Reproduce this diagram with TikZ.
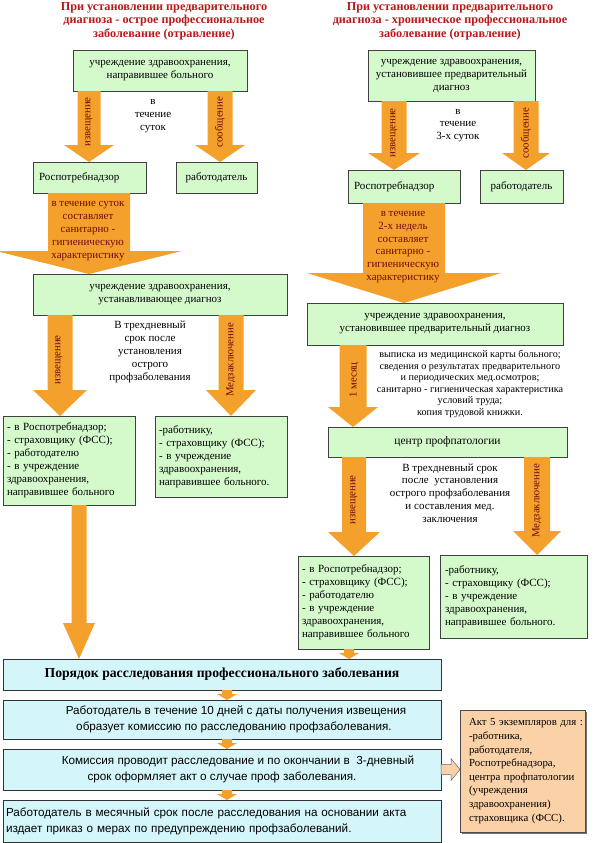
\documentclass[tikz,border=0pt]{standalone}
\usepackage{fontspec}
\setmainfont{Liberation Serif}
\newfontfamily\arialf{Liberation Sans}
\usetikzlibrary{calc,shadows}
\definecolor{grn}{RGB}{212,250,204}
\definecolor{blu}{RGB}{212,246,250}
\definecolor{org}{RGB}{243,160,45}
\definecolor{peach}{RGB}{251,210,168}
\definecolor{ttl}{RGB}{185,25,25}
\definecolor{mar}{RGB}{115,10,10}
\newcommand\fs[2]{\fontsize{#1}{#2}\selectfont}
\tikzset{
 every node/.style={inner sep=0pt, outer sep=0pt},
 ttlst/.style={font=\bfseries\fs{12.2}{13.6}, text=ttl, align=center},
 gbox/.style={draw=black!75, line width=0.6pt, fill=grn, font=\fs{11}{13}},
 bbox/.style={draw=black!80, line width=0.7pt, fill=blu, minimum width=438pt, font=\arialf\fs{11.7}{16}},
 arr/.style={fill=org},
 albl/.style={text=mar, font=\fs{10.8}{12}, rotate=90},
 atxt/.style={text=mar, font=\fs{11}{12.8}, align=center},
 ftxt/.style={font=\fs{11}{12.8}, align=center},
}
% block arrow: from node #1 (south) to node #2 (north) at x=#3, shaft half #4, head half #5, head length #6
\newcommand\barrow[6]{%
 \fill[arr] let \p1=(#1.south), \p2=(#2.north) in
  ({(#3-#4)*1pt},\y1) -- ({(#3+#4)*1pt},\y1) -- ({(#3+#4)*1pt},{\y2+#6pt})
  -- ({(#3+#5)*1pt},{\y2+#6pt}) -- ({#3*1pt},\y2) -- ({(#3-#5)*1pt},{\y2+#6pt})
  -- ({(#3-#4)*1pt},{\y2+#6pt}) -- cycle;}
\begin{document}
\begin{tikzpicture}[x=1pt,y=-1pt]
\useasboundingbox (0,0) rectangle (596,843);
\fill[white] (0,0) rectangle (596,843);

% titles
\node[ttlst] (t1) at (164,21) {При установлении предварительного\\диагноза - острое профессиональное\\заболевание (отравление)};
\node[ttlst] (t2) at (450,21) {При установлении предварительного\\диагноза - хроническое профессиональное\\заболевание (отравление)};

% ---------- left column ----------
\node[gbox, minimum width=174pt, minimum height=41pt, align=center] (lb1) at (160,70.5) {учреждение здравоохранения,\\направившее больного};
\node[gbox, minimum width=113pt, minimum height=31pt, text width=101pt, inner xsep=6pt, align=left] (lrpn) at (89.5,177.5) {Роспотребнадзор};
\node[gbox, minimum width=81pt, minimum height=31pt, align=center] (lrab) at (216.5,177.5) {работодатель};
\node[gbox, minimum width=254pt, minimum height=41pt, align=center] (lb2) at (160,294.5) {учреждение здравоохранения,\\устанавливающее диагноз};
\node[gbox, minimum width=132pt, minimum height=89pt, text width=124pt, inner xsep=4pt, align=left] (lb3) at (69,460.5) {- в Роспотребнадзор;\\- страховщику (ФСС);\\- работодателю\\- в учреждение\\здравоохранения,\\направившее больного};
\node[gbox, minimum width=132pt, minimum height=81pt, text width=124pt, inner xsep=4pt, align=left] (lb4) at (221,456.5) {-работнику,\\- страховщику (ФСС);\\- в учреждение\\здравоохранения,\\направившее больного.};

\barrow{lb1}{lrpn}{89}{11.5}{25}{17}
\barrow{lb1}{lrab}{220}{12.5}{25}{17}
\barrow{lrpn}{lb2}{89}{41}{93}{23}
\barrow{lb2}{lb3}{60}{12.5}{27}{26}
\barrow{lb2}{lb4}{231}{12.5}{25}{26}

\node[albl] (la1) at (89,122) {извещение};
\node[albl] (la2) at (220,122) {сообщение};
\node[ftxt] (lt1) at (153,116) {в\\течение\\суток};
\node[atxt] (lt2) at (88,231) {в течение суток\\составляет\\санитарно -\\гигиеническую\\характеристику};
\node[albl] (la3) at (59,360) {извещение};
\node[albl] (la4) at (231,360) {Медзаключение};
\node[ftxt] (lt3) at (150,352) {В трехдневный\\срок после\\установления\\острого\\профзаболевания};

% ---------- right column ----------
\node[gbox, minimum width=167pt, minimum height=51pt, align=center] (rb1) at (451.5,75.5) {учреждение здравоохранения,\\установившее предварительный\\диагноз};
\node[gbox, minimum width=112pt, minimum height=33pt, text width=100pt, inner xsep=6pt, align=left] (rrpn) at (404,186.5) {Роспотребнадзор};
\node[gbox, minimum width=83pt, minimum height=33pt, align=center] (rrab) at (521.5,186.5) {работодатель};
\node[gbox, minimum width=256pt, minimum height=42pt, align=center] (rb2) at (435,324) {учреждение здравоохранения,\\установившее предварительный диагноз};
\node[gbox, minimum width=239pt, minimum height=30pt, align=center, font=\fs{11.5}{13}] (rcp) at (447.5,442) {центр профпатологии};
\node[gbox, minimum width=131pt, minimum height=93pt, text width=123pt, inner xsep=4pt, align=left] (rb3) at (363.5,602.5) {- в Роспотребнадзор;\\- страховщику (ФСС);\\- работодателю\\- в учреждение\\здравоохранения,\\направившее больного};
\node[gbox, minimum width=147pt, minimum height=83pt, text width=137pt, inner xsep=5pt, align=left] (rb4) at (513.5,596.5) {-работнику,\\- страховщику (ФСС);\\- в учреждение\\здравоохранения,\\направившее больного.};

\barrow{rb1}{rrpn}{394}{12.5}{26}{17}
\barrow{rb1}{rrab}{526}{12.5}{24}{17}
\barrow{rrpn}{rb2}{404}{41}{97}{30}
\barrow{rb2}{rcp}{353}{13.5}{25}{20}
\barrow{rcp}{rb3}{354}{12}{26}{24}
\barrow{rcp}{rb4}{537}{13}{24}{24}

\node[albl] (ra1) at (394,133) {извещение};
\node[albl] (ra2) at (526,133) {сообщение};
\node[ftxt] (rt1) at (458,125.5) {в\\течение\\3-х суток};
\node[atxt] (rt2) at (403,247) {в течение\\2-х недель\\составляет\\санитарно -\\гигиеническую\\характеристику};
\node[albl] (ra3) at (354,380) {1 месяц};
\node[font=\fs{10.2}{11.6}, align=center] (rt3) at (470,384) {выписка из медицинской карты больного;\\сведения о результатах предварительного\\и периодических мед.осмотров;\\санитарно - гигиеническая характеристика\\условий труда;\\копия трудовой книжки.};
\node[albl] (ra4) at (354,500) {извещение};
\node[albl] (ra5) at (537,501) {Медзаключение};
\node[ftxt] (rt4) at (450,493) {В трехдневный срок\\после~ установления\\острого профзаболевания\\и составления мед.\\заключения};

% ---------- bottom ----------
\node[bbox, minimum height=31pt, font=\bfseries\fs{13.7}{15}] (bx1) at (222,674.5) {Порядок расследования профессионального заболевания};
\node[bbox, minimum height=39pt, align=center] (bx2) at (222,719.5) {\hspace*{28pt}Работодатель в течение 10 дней с даты получения извещения\\\hspace*{24pt}образует комиссию по расследованию профзаболевания.};
\node[bbox, minimum height=41pt, align=center] (bx3) at (222,769.5) {\hspace*{32pt}Комиссия проводит расследование и по окончании в~ 3-дневный\\срок оформляет акт о случае проф заболевания.};
\node[bbox, minimum height=42pt, text width=432pt, inner xsep=3pt, align=left] (bx4) at (222,821) {Работодатель в месячный срок после расследования на основании акта\\издает приказ о мерах по предупреждению профзаболеваний.};
\node[draw=black!70, line width=0.6pt, fill=peach, drop shadow={shadow xshift=2pt, shadow yshift=-2pt, fill=black!55, opacity=1},
      minimum width=125pt, minimum height=122pt, text width=121pt, inner xsep=2pt, align=left, font=\fs{10.8}{13.6}] (act) at (522.5,771)
 {\hspace*{7pt}Акт 5 экземпляров для~:\\\hspace*{7pt}-работника,\\\hspace*{7pt}работодателя,\\\hspace*{7pt}Роспотребнадзора,\\\hspace*{7pt}центра профпатологии\\\hspace*{7pt}(учреждения\\\hspace*{7pt}здравоохранения)\\\hspace*{7pt}страховщика (ФСС).};

\barrow{lb3}{bx1}{79}{7.5}{16}{36}
\barrow{rb3}{bx1}{349}{5}{10}{6}
\barrow{bx1}{bx2}{227}{5}{10}{6}
\barrow{bx2}{bx3}{227}{5}{10}{6}
\barrow{bx3}{bx4}{227}{5}{10}{6}

\draw[draw=black!60, line width=0.5pt, fill=peach] let \p1=(bx3.east), \p2=(act.west) in
  (\x1,{\y1+5pt}) -- ({\x2-9pt},{\y1+5pt}) -- ({\x2-9pt},{\y1+11pt}) -- (\x2,\y1)
  -- ({\x2-9pt},{\y1-11pt}) -- ({\x2-9pt},{\y1-5pt}) -- (\x1,{\y1-5pt}) -- cycle;
\end{tikzpicture}
\end{document}
